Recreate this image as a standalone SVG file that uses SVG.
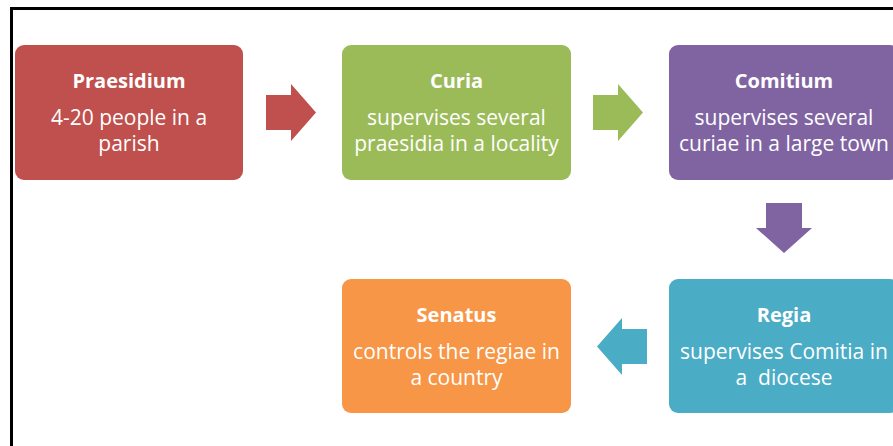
<svg xmlns="http://www.w3.org/2000/svg" width="893" height="446" viewBox="0 0 893 446">
<style>
.t{font-family:"Open Sans","Liberation Sans",sans-serif;fill:#fff;text-anchor:middle}
.h{font-size:20px;font-weight:bold}
.b{font-size:21px}
</style>
<rect width="893" height="446" fill="#fff"/>
<path d="M11.5 446V8.5H893" fill="none" stroke="#000" stroke-width="3"/>
<g id="connectors">
<polygon points="266,95 291,95 291,84 316,112.5 291,141 291,130 266,130" fill="#C0504D"/>
<polygon points="593,95 618,95 618,84 643,112.5 618,141 618,130 593,130" fill="#9BBB59"/>
<polygon points="766,203 802,203 802,228 812,228 784,253 756,228 766,228" fill="#8064A2"/>
<polygon points="647,329 622,329 622,318 597,346.5 622,375 622,364 647,364" fill="#4BACC6"/>
</g>
<g id="praesidium">
<rect x="15" y="45" width="228" height="135" rx="9" fill="#C0504D"/>
<text class="t h" x="129" y="88">Praesidium</text>
<text class="t b" x="129" y="125">4-20 people in a</text>
<text class="t b" x="129" y="151">parish</text>
</g>
<g id="curia">
<rect x="342" y="45" width="229" height="135" rx="9" fill="#9BBB59"/>
<text class="t h" x="456.5" y="88">Curia</text>
<text class="t b" x="456.5" y="125">supervises several</text>
<text class="t b" x="456.5" y="151">praesidia in a locality</text>
</g>
<g id="comitium">
<rect x="669" y="45" width="230" height="135" rx="9" fill="#8064A2"/>
<text class="t h" x="784" y="88">Comitium</text>
<text class="t b" x="784" y="125">supervises several</text>
<text class="t b" x="784" y="151">curiae in a large town</text>
</g>
<g id="regia">
<rect x="669" y="279" width="230" height="134" rx="9" fill="#4BACC6"/>
<text class="t h" x="784" y="322">Regia</text>
<text class="t b" x="784" y="359">supervises Comitia in</text>
<text class="t b" x="784" y="385" xml:space="preserve">a  diocese</text>
</g>
<g id="senatus">
<rect x="342" y="279" width="229" height="134" rx="9" fill="#F79646"/>
<text class="t h" x="456.5" y="322">Senatus</text>
<text class="t b" x="456.5" y="359">controls the regiae in</text>
<text class="t b" x="456.5" y="385">a country</text>
</g>
</svg>
